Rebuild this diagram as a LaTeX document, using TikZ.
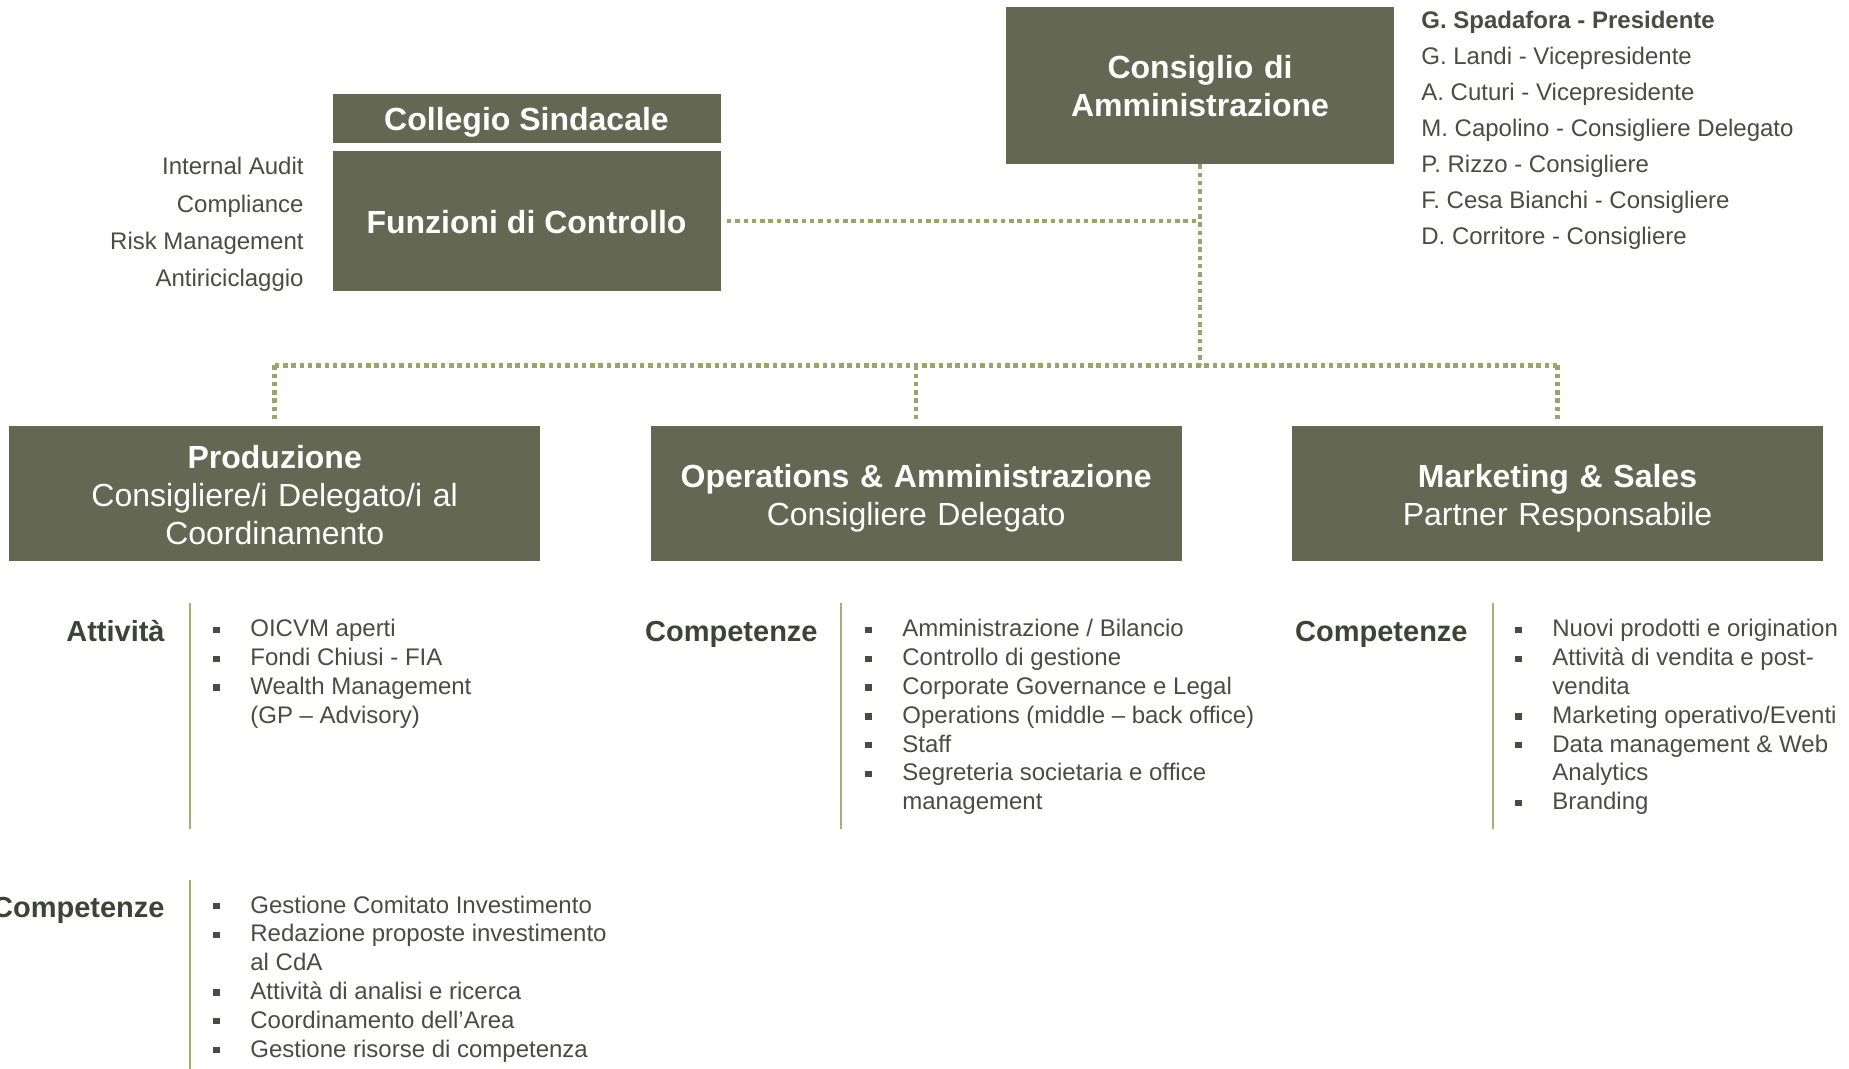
\documentclass[tikz,border=0pt]{standalone}
\usepackage{fontspec}
\setmainfont{Liberation Sans}
\definecolor{boxfill}{HTML}{646852}
\definecolor{dotc}{HTML}{98A66C}
\definecolor{sepc}{HTML}{A2AF7A}
\definecolor{lblc}{HTML}{3F4335}
\definecolor{txtc}{HTML}{4A4B43}
\newcommand{\bul}{\makebox[18.5pt][l]{\rule[1.9pt]{3.2pt}{3.2pt}}}
\newcommand{\ind}{\hspace*{18.5pt}}
\begin{document}
\begin{tikzpicture}[x=0.5pt,y=-0.5pt,
  orgbox/.style={fill=boxfill, inner sep=0pt},
  boxtext/.style={text=white, inner sep=0pt, align=center, font=\fontsize{16}{19.2}\selectfont},
  dotline/.style={draw=dotc, line width=2.25pt, dash pattern=on 2.25pt off 1.9pt},
  sepline/.style={draw=sepc, line width=1pt},
  lbl/.style={font=\fontsize{14.5}{17}\selectfont\bfseries, text=lblc, inner sep=0pt, anchor=base east},
  listtxt/.style={font=\fontsize{12}{14.4}\selectfont, text=txtc, inner sep=0pt, anchor=base west}]
\useasboundingbox (0,0) rectangle (1849,1069);

% top boxes
\node[orgbox, minimum width=194pt, minimum height=78.5pt] (cda) at (1200,85.5) {};
\node[boxtext, font=\fontsize{16}{19.2}\selectfont\bfseries, text width=190pt] (cdat) at ([yshift=-0.3pt]cda.center) {Consiglio di\\Amministrazione};
\node[orgbox, minimum width=194pt, minimum height=24.5pt] (coll) at (526.5,118.5) {};
\node[boxtext, font=\fontsize{16}{19.2}\selectfont\bfseries] (collt) at ([yshift=-1.7pt]coll.center) {Collegio Sindacale};
\node[orgbox, minimum width=194pt, minimum height=70pt] (funz) at (526.5,221) {};
\node[boxtext, font=\fontsize{16}{19.2}\selectfont\bfseries] (funzt) at ([yshift=-0.6pt]funz.center) {Funzioni di Controllo};

% area boxes
\node[orgbox, minimum width=265.3pt, minimum height=67.5pt] (prod) at (274.7,493.5) {};
\node[boxtext, text width=260pt] (prodt) at ([yshift=-0.8pt]prod.center) {{\bfseries Produzione}\\Consigliere/i Delegato/i al\\Coordinamento};
\node[orgbox, minimum width=265.3pt, minimum height=67.5pt] (ops) at (916.2,493.5) {};
\node[boxtext, text width=260pt] (opst) at ([yshift=-2.35pt]ops.center) {{\bfseries Operations \& Amministrazione}\\Consigliere Delegato};
\node[orgbox, minimum width=265.3pt, minimum height=67.5pt] (mkt) at (1557.5,493.5) {};
\node[boxtext, text width=260pt] (mktt) at ([yshift=-2.35pt]mkt.center) {{\bfseries Marketing \& Sales}\\Partner Responsabile};

% connectors
\coordinate (j) at (1200,365.3);
\draw[dotline] (cda.south) -- (j);
\draw[dotline] ([xshift=3pt]funz.east) -- (funz.east -| cda.south);
\draw[dotline] (prod.north |- j) -- (mkt.north |- j);
\draw[dotline] (prod.north |- j) -- ([yshift=3.5pt]prod.north);
\draw[dotline] (ops.north |- j) -- ([yshift=3.5pt]ops.north);
\draw[dotline] (mkt.north |- j) -- ([yshift=3.5pt]mkt.north);

% board members
\node[inner sep=0pt, anchor=base west, text=txtc, font=\fontsize{12}{18}\selectfont] (members) at (1421,28.2) {\begin{tabular}[t]{@{}l@{}}
\textbf{G. Spadafora - Presidente}\\
G. Landi - Vicepresidente\\
A. Cuturi - Vicepresidente\\
M. Capolino - Consigliere Delegato\\
P. Rizzo - Consigliere\\
F. Cesa Bianchi - Consigliere\\
D. Corritore - Consigliere
\end{tabular}};

% control functions
\node[inner sep=0pt, anchor=base east, text=txtc, font=\fontsize{12}{18.65}\selectfont] (ctrl) at (304,175) {\begin{tabular}[t]{@{}r@{}}
Internal Audit\\
Compliance\\
Risk Management\\
Antiriciclaggio
\end{tabular}};

% separators
\draw[sepline] (190,603) -- (190,829);
\draw[sepline] (841,603) -- (841,829);
\draw[sepline] (1493,603) -- (1493,829);
\draw[sepline] (190,880) -- (190,1069);

% labels
\node[lbl] (l1) at (165,641.5) {Attività};
\node[lbl] (l2) at (818,641.5) {Competenze};
\node[lbl] (l3) at (1468,641.5) {Competenze};
\node[lbl] (l4) at (165,917.5) {Competenze};

% lists
\node[listtxt] (list1) at (213,637) {\begin{tabular}[t]{@{}l@{}}
\bul OICVM aperti\\
\bul Fondi Chiusi - FIA\\
\bul Wealth Management\\
\ind (GP – Advisory)
\end{tabular}};
\node[listtxt] (list2) at (865,637) {\begin{tabular}[t]{@{}l@{}}
\bul Amministrazione / Bilancio\\
\bul Controllo di gestione\\
\bul Corporate Governance e Legal\\
\bul Operations (middle – back office)\\
\bul Staff\\
\bul Segreteria societaria e office\\
\ind management
\end{tabular}};
\node[listtxt] (list3) at (1515,637) {\begin{tabular}[t]{@{}l@{}}
\bul Nuovi prodotti e origination\\
\bul Attività di vendita e post-\\
\ind vendita\\
\bul Marketing operativo/Eventi\\
\bul Data management \& Web\\
\ind Analytics\\
\bul Branding
\end{tabular}};
\node[listtxt] (list4) at (213,913) {\begin{tabular}[t]{@{}l@{}}
\bul Gestione Comitato Investimento\\
\bul Redazione proposte investimento\\
\ind al CdA\\
\bul Attività di analisi e ricerca\\
\bul Coordinamento dell’Area\\
\bul Gestione risorse di competenza
\end{tabular}};
\end{tikzpicture}
\end{document}
